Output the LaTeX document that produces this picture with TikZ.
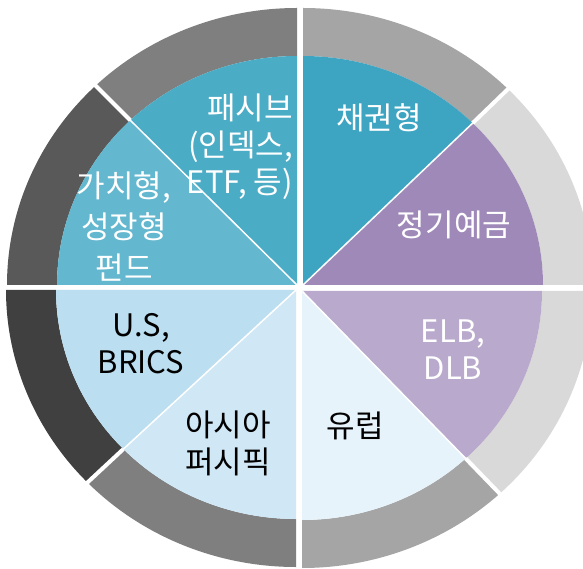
\documentclass[tikz,border=0pt]{standalone}
\usepackage{fontspec}
\setmainfont{Noto Sans CJK KR}
\usetikzlibrary{calc}
\definecolor{rA}{HTML}{7F7F7F}
\definecolor{rB}{HTML}{595959}
\definecolor{rC}{HTML}{A5A5A5}
\definecolor{rD}{HTML}{D9D9D9}
\definecolor{rE}{HTML}{404040}
\definecolor{pPassive}{HTML}{4BACC6}
\definecolor{pValue}{HTML}{63B7CF}
\definecolor{pBond}{HTML}{3DA5C2}
\definecolor{pDeposit}{HTML}{9F89B8}
\definecolor{pELB}{HTML}{B9A9CC}
\definecolor{pEurope}{HTML}{E7F3FA}
\definecolor{pUS}{HTML}{BBDEF0}
\definecolor{pAsia}{HTML}{D0E7F5}
\newcommand\ringseg[4]{%
  \fill[#4] ($(#1)+(#2:290 and 277)$) arc[start angle=#2,end angle=#3,x radius=290,y radius=277]
    -- ($(#1)+(#3:240 and 229)$) arc[start angle=#3,end angle=#2,x radius=240,y radius=229] -- cycle;}
\newcommand\pieseg[4]{%
  \fill[#4] (#1) -- ($(#1)+(#2:240 and 229)$) arc[start angle=#2,end angle=#3,x radius=240,y radius=229] -- cycle;}
\newcommand\divline[2]{%
  \draw[white,line width=4] ($(#1)+(#2:240 and 229)$) -- ($(#1)+(#2:296 and 283)$);
  \draw[white,line width=1.5] (#1) -- ($(#1)+(#2:240 and 229)$);}
\tikzset{
  lbl/.style={inner sep=0pt,font=\fontsize{31}{37}\selectfont,align=center},
  wlbl/.style={lbl,text=white},
  klbl/.style={lbl,text=black}
}
\begin{document}
\begin{tikzpicture}[x=1pt,y=1pt]
\useasboundingbox (0,0) rectangle (583,568);
\clip (0,0) rectangle (583,568);
\fill[white] (0,0) rectangle (583,568);
\coordinate (tl) at (297,283);
\coordinate (tr) at (303,283);
\coordinate (bl) at (296,278);
\coordinate (br) at (302,277);
% top-left quadrant
\ringseg{tl}{90}{134}{rA}
\ringseg{tl}{134}{180}{rB}
\pieseg{tl}{90}{134}{pPassive}
\pieseg{tl}{134}{180}{pValue}
\divline{tl}{134}
% top-right quadrant
\ringseg{tr}{45}{90}{rC}
\ringseg{tr}{0}{45}{rD}
\pieseg{tr}{45}{90}{pBond}
\pieseg{tr}{0}{45}{pDeposit}
\divline{tr}{45}
% bottom-right quadrant
\ringseg{br}{-47}{0}{rD}
\ringseg{br}{-90}{-47}{rC}
\pieseg{br}{-47}{0}{pELB}
\pieseg{br}{-90}{-47}{pEurope}
\divline{br}{-47}
% bottom-left quadrant
\ringseg{bl}{180}{224}{rE}
\ringseg{bl}{224}{270}{rA}
\pieseg{bl}{180}{224}{pUS}
\pieseg{bl}{224}{270}{pAsia}
\divline{bl}{224}
% labels
\node[wlbl,anchor=east,align=right] (passive) at (293,421) {패시브\\(인덱스,\\ETF, 등)};
\node[wlbl,font=\fontsize{31}{41}\selectfont] (value) at (124,342) {가치형,\\성장형\\펀드};
\node[wlbl] (bond) at (379,450) {채권형};
\node[wlbl] (deposit) at (454,343) {정기예금};
\node[wlbl] (elb) at (453,218) {ELB,\\DLB};
\node[klbl] (us) at (141,224) {U.S,\\BRICS};
\node[klbl] (asia) at (228,125) {아시아\\퍼시픽};
\node[klbl] (europe) at (355,142) {유럽};
\end{tikzpicture}
\end{document}
